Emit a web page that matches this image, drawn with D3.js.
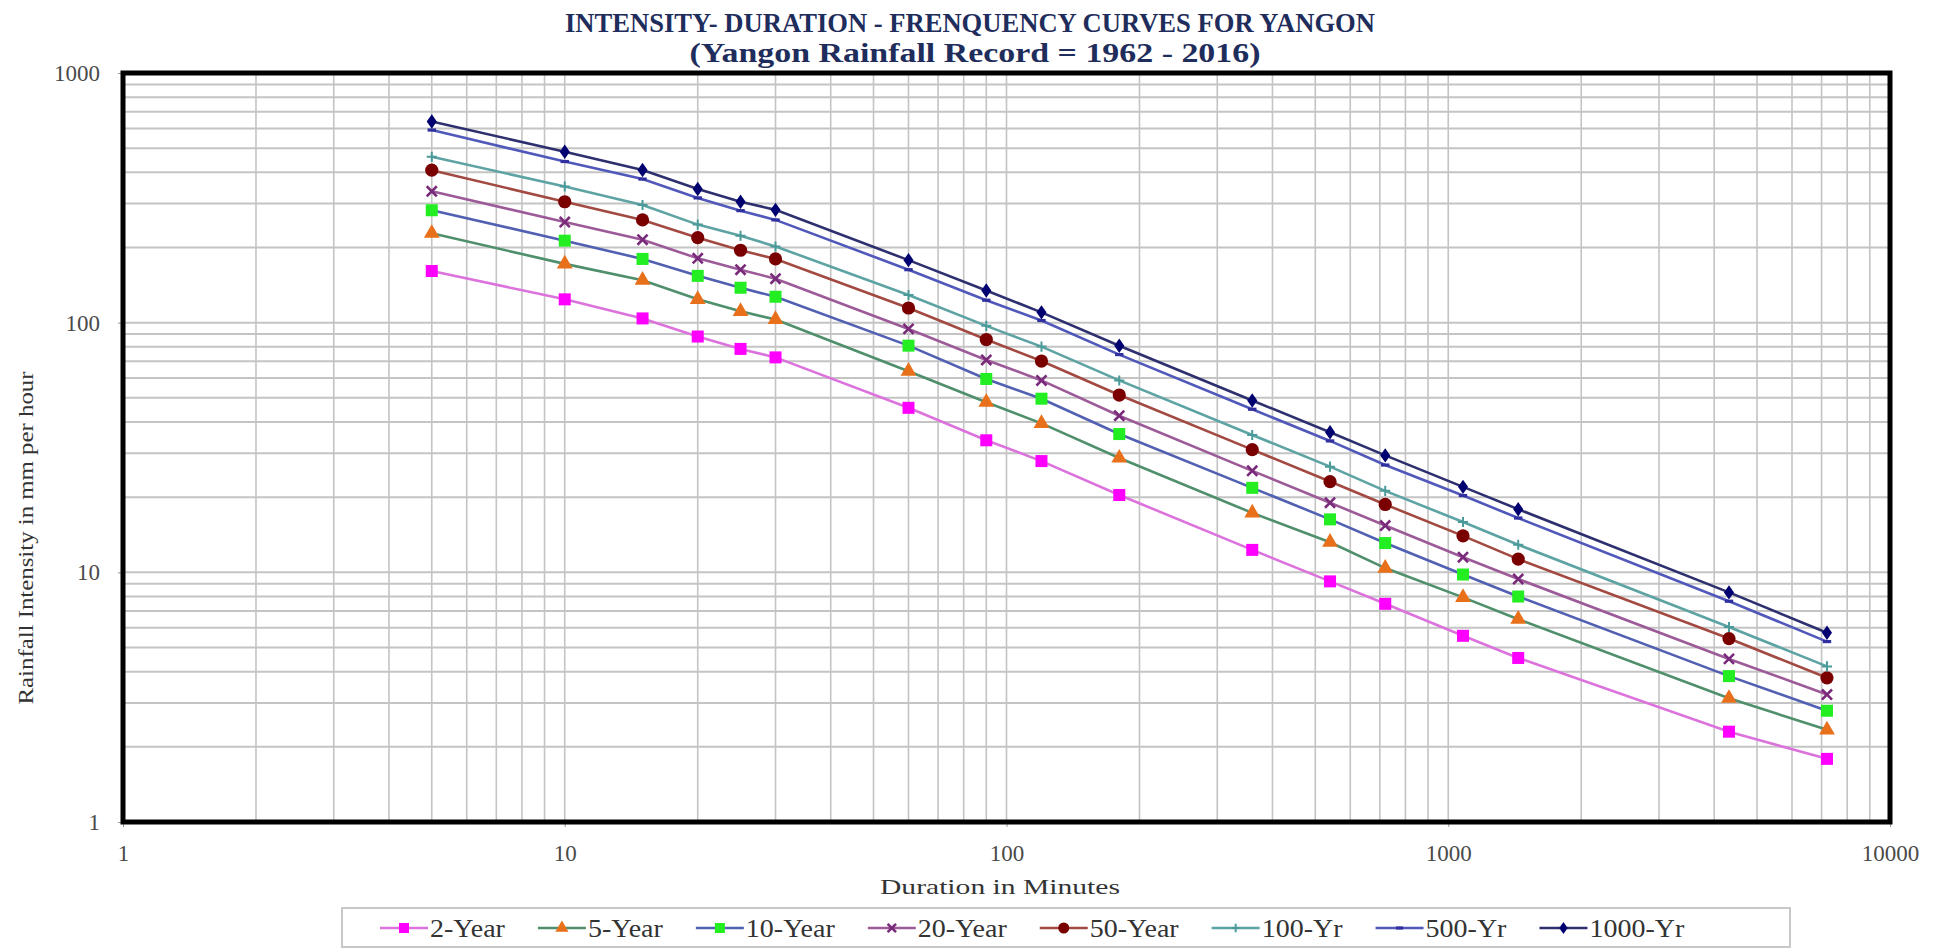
<!DOCTYPE html>
<html>
<head>
<meta charset="utf-8">
<script src="https://cdn.jsdelivr.net/npm/d3@7/dist/d3.min.js"></script>
<style>
    body { margin: 0; background: #fff; }
    text { font-family: "Liberation Serif", "DejaVu Serif", serif; }
</style>
</head>
<body>
<div id="graph"></div>
<script>
// data (minutes vs mm/hr)
const durations = [5, 10, 15, 20, 25, 30, 60, 90, 120, 180, 360, 540, 720, 1080, 1440, 4320, 7200];
const yr2 = [161, 124, 104, 88, 78.5, 72.6, 45.6, 33.8, 27.9, 20.4, 12.3, 9.2, 7.48, 5.57, 4.54, 2.30, 1.79];
const yr5 = [228, 172, 148, 124, 111, 103, 63.9, 48, 39.5, 28.7, 17.3, 13.2, 10.4, 7.94, 6.49, 3.13, 2.34];
const yr10 = [282, 213, 180, 154, 138, 127, 80.9, 59.5, 49.6, 35.8, 21.8, 16.3, 13.1, 9.8, 8.0, 3.84, 2.79];
const yr20 = [336, 253, 215, 181, 163, 150, 94.4, 70.9, 58.7, 42.4, 25.5, 19.0, 15.4, 11.5, 9.4, 4.50, 3.24];
const yr50 = [408, 305, 258, 219, 195, 180, 114.5, 85.6, 70.2, 51.3, 31, 23.1, 18.7, 14.0, 11.3, 5.43, 3.78];
const yr100 = [462, 351, 296, 247, 223, 202, 129, 97.1, 80.2, 58.7, 35.5, 26.5, 21.2, 15.9, 12.9, 6.04, 4.20];
const yr500 = [591, 442, 376, 316, 281, 258, 163, 123, 102, 74.5, 45, 33.6, 26.9, 20.3, 16.5, 7.66, 5.28];
const yr1000 = [639, 484, 409, 343, 305, 283, 178, 134.5, 110, 80.8, 48.8, 36.4, 29.4, 22.0, 17.9, 8.31, 5.73];

const seriesNames = ["2-Year", "5-Year", "10-Year", "20-Year", "50-Year", "100-Yr", "500-Yr", "1000-Yr"];
const seriesValues = [yr2, yr5, yr10, yr20, yr50, yr100, yr500, yr1000];
const lineColors = ["#dc72dc", "#4f8f6b", "#5260b2", "#9c5a98", "#a24a42", "#5ea3a3", "#5058ba", "#2e2f6e"];
const markerColors = ["#ff00ff", "#e8701a", "#22ee22", "#7a2a7a", "#7a0000", "#4a9a9a", "#3030a0", "#000070"];
const markerShapes = ["square", "triangle", "square", "x", "circle", "plus", "dash", "diamond"];

const xTickLabels = [1, 10, 100, 1000, 10000];
const yTickLabels = [1, 10, 100, 1000];

// set the dimensions and margins of the graph
const margin = { top: 73, right: 49, bottom: 127, left: 123 },
    width = 1939 - margin.left - margin.right,
    height = 949 - margin.top - margin.bottom;

let root = d3.select("#graph")
    .append("svg")
    .attr("width", 1939)
    .attr("height", 949);

let svg = root.append("g")
    .attr("transform", "translate(" + margin.left + "," + margin.top + ")");

let x = d3.scaleLog().domain([1, 10000]).range([0, width]);
let y = d3.scaleLog().domain([1, 1000]).range([height, 0]);

// grid lines (majors and minors)
svg.append("g")
    .selectAll("line")
    .data(x.ticks().filter(d => d > 1 && d < 10000))
    .enter().append("line")
    .attr("x1", d => x(d)).attr("x2", d => x(d))
    .attr("y1", 0).attr("y2", height)
    .attr("stroke", "#c4c4c4")
    .attr("stroke-width", 1.6);

svg.append("g")
    .selectAll("line")
    .data(y.ticks().filter(d => d > 1 && d < 1000))
    .enter().append("line")
    .attr("x1", 0).attr("x2", width)
    .attr("y1", d => y(d)).attr("y2", d => y(d))
    .attr("stroke", "#c4c4c4")
    .attr("stroke-width", 2);

// Add X axis
let xAxis = svg.append("g")
    .attr("transform", "translate(0," + height + ")")
    .call(d3.axisBottom(x).tickValues(xTickLabels).tickFormat(d3.format("d")).tickSize(5).tickPadding(18));
xAxis.select(".domain").remove();
xAxis.selectAll("line").attr("stroke", "#999");
xAxis.selectAll("text")
    .attr("font-size", "23px")
    .attr("font-family", "Liberation Serif")
    .attr("fill", "#4a4a4a");

// Add Y axis
let yAxis = svg.append("g")
    .call(d3.axisLeft(y).tickValues(yTickLabels).tickFormat(d3.format("d")).tickSize(5).tickPadding(18));
yAxis.select(".domain").remove();
yAxis.selectAll("line").attr("stroke", "#999");
yAxis.selectAll("text")
    .attr("font-size", "23px")
    .attr("font-family", "Liberation Serif")
    .attr("fill", "#4a4a4a");

// marker drawing
function drawMarker(g, shape, color, s) {
    if (shape === "square") {
        g.append("rect").attr("x", -s / 2).attr("y", -s / 2).attr("width", s).attr("height", s).attr("fill", color);
    } else if (shape === "triangle") {
        g.append("path").attr("d", d3.symbol().type(d3.symbolTriangle).size(s * s * 0.75)).attr("fill", color);
    } else if (shape === "circle") {
        g.append("circle").attr("r", s * 0.55).attr("fill", color);
    } else if (shape === "diamond") {
        g.append("path").attr("d", "M0," + (-s * 0.6) + "L" + (s * 0.42) + ",0L0," + (s * 0.6) + "L" + (-s * 0.42) + ",0Z").attr("fill", color);
    } else if (shape === "x") {
        let h = s * 0.42;
        g.append("path").attr("d", "M" + (-h) + "," + (-h) + "L" + h + "," + h + "M" + (-h) + "," + h + "L" + h + "," + (-h))
            .attr("stroke", color).attr("stroke-width", 2.6).attr("fill", "none");
    } else if (shape === "plus") {
        let h = s * 0.42;
        g.append("path").attr("d", "M" + (-h) + ",0L" + h + ",0M0," + (-h) + "L0," + h)
            .attr("stroke", color).attr("stroke-width", 2).attr("fill", "none");
    } else if (shape === "dash") {
        g.append("rect").attr("x", -s * 0.35).attr("y", -1.6).attr("width", s * 0.7).attr("height", 3.2).attr("fill", color);
    }
}

let line = d3.line()
    .x((d, i) => x(durations[i]))
    .y(d => y(d));

seriesValues.forEach((vals, k) => {
    svg.append("path")
        .datum(vals)
        .attr("d", line)
        .attr("stroke", lineColors[k])
        .style("stroke-width", 2.6)
        .style("fill", "none");
});

seriesValues.forEach((vals, k) => {
    vals.forEach((v, i) => {
        let g = svg.append("g").attr("transform", "translate(" + x(durations[i]) + "," + y(v) + ")");
        drawMarker(g, markerShapes[k], markerColors[k], 12);
    });
});

// frame
svg.append("rect")
    .attr("x", 0).attr("y", 0)
    .attr("width", width).attr("height", height)
    .attr("fill", "none")
    .attr("stroke", "#000")
    .attr("stroke-width", 5);

// titles
root.append("text")
    .attr("x", 970).attr("y", 32)
    .attr("text-anchor", "middle")
    .attr("font-size", "28px").attr("font-weight", "bold")
    .attr("fill", "#1f2d5c")
    .attr("textLength", 810).attr("lengthAdjust", "spacingAndGlyphs")
    .text("INTENSITY- DURATION - FRENQUENCY CURVES  FOR YANGON");

root.append("text")
    .attr("x", 975).attr("y", 62)
    .attr("text-anchor", "middle")
    .attr("font-size", "28px").attr("font-weight", "bold")
    .attr("fill", "#1f2d5c")
    .attr("textLength", 571).attr("lengthAdjust", "spacingAndGlyphs")
    .text("(Yangon Rainfall Record  =  1962 - 2016)");

root.append("text")
    .attr("x", 1000).attr("y", 894)
    .attr("text-anchor", "middle")
    .attr("font-size", "22px")
    .attr("fill", "#333")
    .attr("textLength", 240).attr("lengthAdjust", "spacingAndGlyphs")
    .text("Duration  in  Minutes");

root.append("text")
    .attr("transform", "translate(33,538) rotate(-90)")
    .attr("text-anchor", "middle")
    .attr("font-size", "22px")
    .attr("fill", "#333")
    .attr("textLength", 333).attr("lengthAdjust", "spacingAndGlyphs")
    .text("Rainfall Intensity  in  mm  per hour");

// legend
let legend = root.append("g");
legend.append("rect")
    .attr("x", 342).attr("y", 908)
    .attr("width", 1448).attr("height", 39)
    .attr("fill", "#fff")
    .attr("stroke", "#c8c8c8")
    .attr("stroke-width", 2);

let lx = 380;
seriesNames.forEach((name, k) => {
    let g = legend.append("g").attr("transform", "translate(" + lx + ",928)");
    g.append("line").attr("x1", 0).attr("x2", 48).attr("y1", 0).attr("y2", 0)
        .attr("stroke", lineColors[k]).attr("stroke-width", 2.6);
    let m = g.append("g").attr("transform", "translate(24,0)");
    drawMarker(m, markerShapes[k], markerColors[k], 10);
    let t = g.append("text")
        .attr("x", 50).attr("y", 9)
        .attr("font-size", "25px")
        .attr("fill", "#333")
        .text(name);
    let w = t.node().getComputedTextLength() * 1.12;
    t.attr("textLength", w).attr("lengthAdjust", "spacingAndGlyphs");
    lx += 50 + w + 33;
});
</script>
</body>
</html>
